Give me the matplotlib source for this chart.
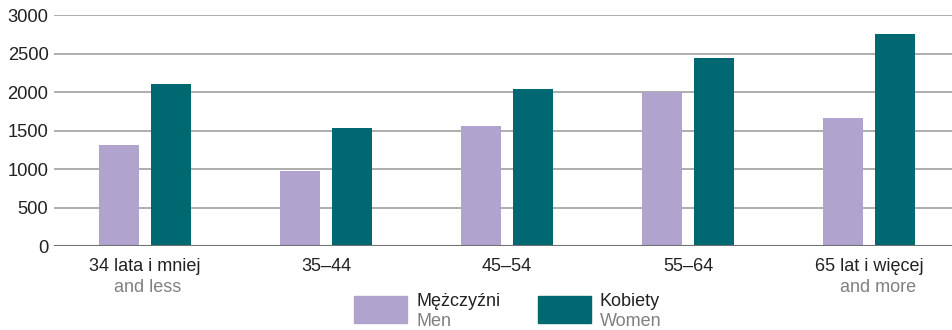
import matplotlib.pyplot as plt
import numpy as np
from matplotlib.patches import Rectangle

plt.rcParams['font.family'] = ['Liberation Sans', 'DejaVu Sans']

# Dane
categories_pl = ['34 lata i mniej', '35–44', '45–54', '55–64', '65 lat i więcej']
categories_en = ['and less', '', '', '', 'and more']
men = [1310, 980, 1560, 2000, 1670]
women = [2110, 1540, 2040, 2440, 2760]
yticks = [0, 500, 1000, 1500, 2000, 2500, 3000]

MEN_COLOR = '#b0a4ce'
WOMEN_COLOR = '#006870'

W, H = 953, 330
fig = plt.figure(figsize=(W / 100, H / 100), dpi=100)
ax = fig.add_axes([54 / W, (H - 246.3) / H, 1 - 54 / W, 231 / H])

x = np.arange(len(categories_pl))
bw = 40 / 181
off = 26 / 181
ax.bar(x - off, men, width=bw, color=MEN_COLOR, zorder=3)
ax.bar(x + off, women, width=bw, color=WOMEN_COLOR, zorder=3)

ax.set_xlim(-91 / 181, 808 / 181)
ax.set_ylim(0, 3000)
ax.set_yticks(yticks)
ax.set_yticklabels([str(v) for v in yticks], fontsize=13.2, color='#222222')
ax.tick_params(axis='y', length=0, pad=4)
ax.set_xticks([])
for v in yticks[1:]:
    ax.axhline(v, color='#a0a0a0', linewidth=1.2, zorder=1)
ax.axhline(0, color='#707070', linewidth=1.5, zorder=4)
for s in ax.spines.values():
    s.set_visible(False)

# Etykiety osi X (dwujęzyczne)
en_shift = [3 / 181, 0, 0, 0, 9 / 181]
for i, (pl, en) in enumerate(zip(categories_pl, categories_en)):
    ax.text(i, -0.05, pl, transform=ax.get_xaxis_transform(), ha='center', va='top',
            fontsize=13, color='#222222')
    if en:
        ax.text(i + en_shift[i], -0.14, en, transform=ax.get_xaxis_transform(),
                ha='center', va='top', fontsize=13, color='#808080')

# Legenda
for px, lab_pl, lab_en, col in [(354, 'Mężczyźni', 'Men', MEN_COLOR),
                                (538, 'Kobiety', 'Women', WOMEN_COLOR)]:
    fig.add_artist(Rectangle((px / W, (H - 323) / H), 53 / W, 27 / H,
                             transform=fig.transFigure, color=col))
    fig.text((px + 62) / W, (H - 302) / H, lab_pl, ha='left', va='center',
             fontsize=13, color='#222222')
    fig.text((px + 62) / W, (H - 322) / H, lab_en, ha='left', va='center',
             fontsize=13, color='#808080')

fig.savefig('out.png', dpi=100)
